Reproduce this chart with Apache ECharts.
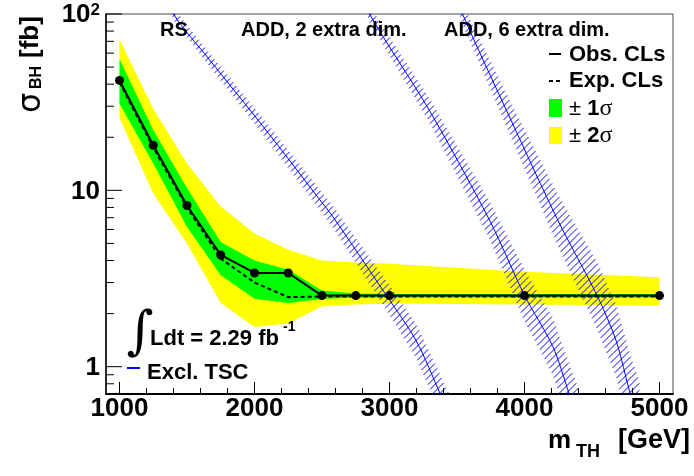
<!DOCTYPE html>
<html><head><meta charset="utf-8">
<script src="https://cdn.jsdelivr.net/npm/echarts@6/dist/echarts.min.js"></script>
<style>html,body{margin:0;padding:0;background:#fff}#c{width:694px;height:476px}</style>
</head><body><div id="c"></div>
<script>
// ---------------- data ----------------
const massPoints = [1000, 1250, 1500, 1750, 2000, 2250, 2500, 2750, 3000, 4000, 5000];
const obsCLs     = [42, 18, 8.2, 4.3, 3.4, 3.4, 2.53, 2.53, 2.53, 2.53, 2.53];
const expCLs     = [41, 17.5, 8.0, 4.1, 3.0, 2.48, 2.5, 2.5, 2.5, 2.5, 2.5];
const band1Up    = [55.6, 22, 10.3, 5.1, 4.0, 3.55, 2.7, 2.6, 2.58, 2.58, 2.58];
const band1Dn    = [31, 14.2, 6.2, 3.3, 2.43, 2.3, 2.42, 2.47, 2.48, 2.48, 2.48];
const band2Up    = [72, 29, 14.2, 8.1, 5.7, 4.6, 4.0, 3.9, 3.84, 3.45, 3.22];
const band2Dn    = [25.7, 9.6, 5.0, 2.3, 1.68, 1.76, 2.2, 2.25, 2.28, 2.25, 2.22];

const rsMass   = [1300, 1400, 1667, 2074, 2481, 2580, 2976, 3198, 3378, 3450];
const rsSigma  = [158, 100, 55, 22.5, 8.9, 7.1, 2.54, 1.40, 0.695, 0.52];
const rsUnc    = [0.07, 0.08, 0.09, 0.11, 0.14, 0.15, 0.21, 0.25, 0.28, 0.3];
const add2Mass  = [2780, 2852, 3300, 3741, 4000, 4210, 4333, 4400];
const add2Sigma = [140, 100, 28, 6.77, 2.54, 1.3, 0.695, 0.5];
const add2Unc   = [0.1, 0.11, 0.17, 0.28, 0.4, 0.45, 0.48, 0.5];
const add6Mass  = [3480, 3541, 3900, 4247, 4541, 4679, 4785, 4850];
const add6Sigma = [140, 100, 25, 6.77, 2.5, 1.4, 0.695, 0.5];
const add6Unc   = [0.13, 0.14, 0.25, 0.4, 0.55, 0.6, 0.65, 0.67];

const xMajorTicks = [1000, 2000, 3000, 4000, 5000];
const xTickLabels = ['1000', '2000', '3000', '4000', '5000'];
const xMinorTicks = [1200, 1400, 1600, 1800, 2200, 2400, 2600, 2800, 3200, 3400, 3600, 3800, 4200, 4400, 4600, 4800, 5000];
const yMajorTicks = [1, 10, 100];
const yTickLabels = ['1', '10', '10{sup|2}'];
const yMinorTicks = [0.7, 0.8, 0.9, 2, 3, 4, 5, 6, 7, 8, 9, 20, 30, 40, 50, 60, 70, 80, 90];

const X_MIN = 900, X_MAX = 5100, Y_MIN = 0.7, Y_MAX = 100;

// ---------------- helpers ----------------
const F = '"Liberation Sans", Arial, sans-serif';
const HATCH_STEP = 7;

function bandSeries(xs, up, dn, fill, z) {
  return {
    type: 'custom', z: z, silent: true, clip: true,
    data: xs.map((x, i) => [x, up[i], dn[i]]),
    renderItem: function (params, api) {
      if (params.dataIndex !== 0) return null;
      const pts = [];
      for (let i = 0; i < xs.length; i++) pts.push(api.coord([xs[i], up[i]]));
      for (let i = xs.length - 1; i >= 0; i--) pts.push(api.coord([xs[i], dn[i]]));
      return { type: 'polygon', shape: { points: pts }, style: { fill: fill, stroke: null } };
    }
  };
}
function hatchSeries(xs, sig, unc, z) {
  const up = sig.map((s, i) => s * (1 + unc[i]));
  const dn = sig.map((s, i) => s / (1 + unc[i]));
  return {
    type: 'custom', z: z, silent: true, clip: true,
    data: xs.map((x, i) => [x, sig[i]]),
    renderItem: function (params, api) {
      if (params.dataIndex !== 0) return null;
      const poly = [];
      for (let i = 0; i < xs.length; i++) poly.push(api.coord([xs[i], up[i]]));
      for (let i = xs.length - 1; i >= 0; i--) poly.push(api.coord([xs[i], dn[i]]));
      let cmin = Infinity, cmax = -Infinity;
      poly.forEach(p => { const c = p[0] + p[1]; cmin = Math.min(cmin, c); cmax = Math.max(cmax, c); });
      const children = [];
      for (let c = Math.ceil(cmin / HATCH_STEP) * HATCH_STEP + 0.5; c <= cmax; c += HATCH_STEP) {
        const hits = [];
        for (let k = 0; k < poly.length; k++) {
          const p = poly[k], q = poly[(k + 1) % poly.length];
          const fp = p[0] + p[1] - c, fq = q[0] + q[1] - c;
          if ((fp < 0) !== (fq < 0)) {
            const t = fp / (fp - fq);
            hits.push([p[0] + t * (q[0] - p[0]), p[1] + t * (q[1] - p[1])]);
          }
        }
        hits.sort((a, b) => a[0] - b[0]);
        for (let k = 0; k + 1 < hits.length; k += 2) {
          children.push({ type: 'line', shape: { x1: hits[k][0], y1: hits[k][1], x2: hits[k + 1][0], y2: hits[k + 1][1] },
            style: { stroke: '#0000ff', lineWidth: 1 } });
        }
      }
      return { type: 'group', children: children };
    }
  };
}
function theoryLine(xs, sig, z) {
  return {
    type: 'line', z: z, silent: true, symbol: 'none', smooth: 0.3,
    data: xs.map((x, i) => [x, sig[i]]),
    lineStyle: { color: '#0000ff', width: 1 }
  };
}
function tickSeries(values, axis, len) {
  return {
    type: 'custom', z: 20, silent: true,
    data: values.map(v => axis === 'x' ? [v, Y_MIN] : [X_MIN, v]),
    renderItem: function (params, api) {
      const p = api.coord([api.value(0), api.value(1)]);
      const shape = axis === 'x'
        ? { x1: p[0], y1: p[1], x2: p[0], y2: p[1] - len }
        : { x1: p[0], y1: p[1], x2: p[0] + len, y2: p[1] };
      return { type: 'line', shape: shape, style: { stroke: '#000', lineWidth: 1 } };
    }
  };
}
function labelSeries(values, labels, axis) {
  return {
    type: 'custom', z: 20, silent: true,
    data: values.map(v => axis === 'x' ? [v, Y_MIN] : [X_MIN, v]),
    renderItem: function (params, api) {
      const p = api.coord([api.value(0), api.value(1)]);
      const txt = labels[params.dataIndex];
      if (axis === 'x') {
        return { type: 'text', x: p[0], y: p[1] + 15,
          style: { text: txt, font: 'bold 26px ' + F, fill: '#000', align: 'center', verticalAlign: 'middle' } };
      }
      return { type: 'text', x: p[0] - 6, y: p[1] + 1,
        style: { text: txt, font: 'bold 26px ' + F, fill: '#000', align: 'right', verticalAlign: 'middle',
          rich: { sup: { font: 'bold 17px ' + F, verticalAlign: 'top', padding: [0, 0, 10, 0] } } } };
    }
  };
}

const chart = echarts.init(document.getElementById('c'), null, { renderer: 'canvas' });
const txt = (x, y, text, size, extra) => Object.assign({
  type: 'text', x: x, y: y, z: 100,
  style: Object.assign({ text: text, font: 'bold ' + size + 'px ' + F, fill: '#000', align: 'left', verticalAlign: 'middle' }, extra || {})
});

chart.setOption({
  animation: false,
  backgroundColor: '#fff',
  grid: { left: 106, right: 21, top: 14, bottom: 82, show: true, borderColor: '#444', borderWidth: 1, backgroundColor: 'transparent' },
  xAxis: { type: 'value', min: X_MIN, max: X_MAX,
    axisLine: { show: true, onZero: false, lineStyle: { color: '#000', width: 2 } },
    axisTick: { show: false }, axisLabel: { show: false }, splitLine: { show: false } },
  yAxis: { type: 'log', logBase: 10, min: Y_MIN, max: Y_MAX,
    axisLine: { show: true, lineStyle: { color: '#000', width: 1.5 } },
    axisTick: { show: false }, axisLabel: { show: false }, splitLine: { show: false } },
  series: [
    bandSeries(massPoints, band2Up, band2Dn, '#ffff00', 1),
    bandSeries(massPoints, band1Up, band1Dn, '#00ff00', 2),
    hatchSeries(rsMass, rsSigma, rsUnc, 3),
    hatchSeries(add2Mass, add2Sigma, add2Unc, 3),
    hatchSeries(add6Mass, add6Sigma, add6Unc, 3),
    theoryLine(rsMass, rsSigma, 4),
    theoryLine(add2Mass, add2Sigma, 4),
    theoryLine(add6Mass, add6Sigma, 4),
    { type: 'line', z: 5, silent: true, symbol: 'none',
      data: massPoints.map((m, i) => [m, expCLs[i]]),
      lineStyle: { color: '#000', width: 2, type: [4, 3] } },
    { type: 'line', z: 6, silent: true, symbol: 'circle', symbolSize: 9,
      data: massPoints.map((m, i) => [m, obsCLs[i]]),
      itemStyle: { color: '#000' }, lineStyle: { color: '#000', width: 2 } },
    tickSeries(xMajorTicks, 'x', 12),
    tickSeries(xMinorTicks, 'x', 6),
    tickSeries(yMajorTicks, 'y', 16),
    tickSeries(yMinorTicks, 'y', 8),
    labelSeries(xMajorTicks, xTickLabels, 'x'),
    labelSeries(yMajorTicks, yTickLabels, 'y')
  ],
  graphic: [
    txt(160, 30, 'RS', 20),
    txt(241, 30, 'ADD, 2 extra dim.', 20),
    txt(444, 30, 'ADD, 6 extra dim.', 20),
    // legend
    { type: 'line', z: 100, shape: { x1: 549, y1: 54, x2: 561, y2: 54 }, style: { stroke: '#000', lineWidth: 2 } },
    txt(569, 55, 'Obs. CLs', 22),
    { type: 'line', z: 100, shape: { x1: 549, y1: 81, x2: 561, y2: 81 }, style: { stroke: '#000', lineWidth: 2, lineDash: [4, 3] } },
    txt(569, 81, 'Exp. CLs', 22),
    { type: 'rect', z: 100, shape: { x: 549, y: 99, width: 13, height: 18 }, style: { fill: '#00ff00' } },
    txt(569, 109, '{n|±} 1{s|σ}', 22, { rich: { n: { font: '22px ' + F }, s: { font: '24px "Liberation Serif", serif' } } }),
    { type: 'rect', z: 100, shape: { x: 549, y: 127, width: 13, height: 17 }, style: { fill: '#ffff00' } },
    txt(569, 136, '{n|±} 2{s|σ}', 22, { rich: { n: { font: '22px ' + F }, s: { font: '24px "Liberation Serif", serif' } } }),
    // lumi
    { type: 'text', x: 140, y: 334, z: 100, style: { text: '∫', font: '52px "DejaVu Serif", serif', fill: '#000', align: 'center', verticalAlign: 'middle' } },
    txt(150, 339, 'Ldt = 2.29 fb', 22),
    txt(283, 327, '-1', 14),
    { type: 'line', z: 100, shape: { x1: 127, y1: 368, x2: 140, y2: 368 }, style: { stroke: '#0000ff', lineWidth: 2 } },
    txt(147, 373, 'Excl. TSC', 22),
    // x title
    txt(548, 441, 'm', 26),
    txt(576, 452, 'TH', 18),
    txt(690, 441, '[GeV]', 27, { align: 'right' }),
    // y title (rotated)
    { type: 'group', x: 31, y: 113, rotation: Math.PI / 2, z: 100, children: [
      { type: 'text', x: 0, y: 1, style: { text: 'σ', font: '32px "DejaVu Sans", sans-serif', fill: '#000', align: 'left', verticalAlign: 'middle' } },
      { type: 'text', x: 24, y: 6, style: { text: 'BH', font: 'bold 16px ' + F, fill: '#000', align: 'left', verticalAlign: 'middle' } },
      { type: 'text', x: 55, y: 0, style: { text: '[fb]', font: 'bold 26px ' + F, fill: '#000', align: 'left', verticalAlign: 'middle' } }
    ] }
  ]
});
</script>
</body></html>
